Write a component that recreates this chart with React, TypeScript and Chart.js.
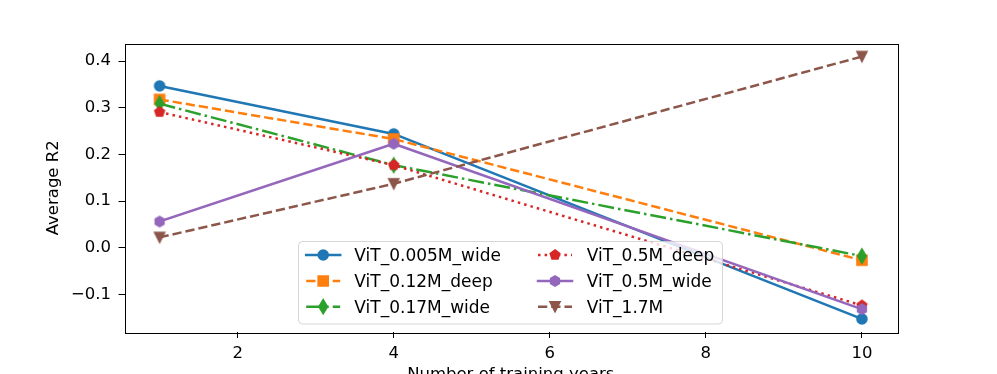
import React, { useEffect, useRef } from 'react';
import { Chart, registerables } from 'chart.js';

Chart.register(...registerables);

// ---- data ----
const years = [1, 4, 10];
const seriesNames = [
  'ViT_0.005M_wide',
  'ViT_0.12M_deep',
  'ViT_0.17M_wide',
  'ViT_0.5M_deep',
  'ViT_0.5M_wide',
  'ViT_1.7M',
];
const vit0005Wide = [0.347, 0.244, -0.153];
const vit012Deep = [0.318, 0.233, -0.027];
const vit017Wide = [0.309, 0.177, -0.018];
const vit05Deep = [0.291, 0.177, -0.124];
const vit05Wide = [0.056, 0.223, -0.132];
const vit17 = [0.022, 0.137, 0.41];
const seriesValues = [vit0005Wide, vit012Deep, vit017Wide, vit05Deep, vit05Wide, vit17];
const xTicks = [2, 4, 6, 8, 10];
const yTicks = [-0.1, 0.0, 0.1, 0.2, 0.3, 0.4];
const xTitle = 'Number of training years';
const yTitle = 'Average R2';

// ---- styles ----
const colors = ['#1f77b4', '#ff7f0e', '#2ca02c', '#d62728', '#9467bd', '#8c564b'];
const dashes: number[][] = [[], [9.25, 4], [16, 4, 2.5, 4], [2.5, 4.1], [], [9.25, 4]];
const markers = ['circle', 'square', 'thinDiamond', 'pentagon', 'hexagon', 'triangleDown'];
const FONT = '"DejaVu Sans", sans-serif';
const MS = 10; // marker size px
const MEW = 1.6; // marker edge width
const LW = 2.5;

function markerPath(ctx: CanvasRenderingContext2D, kind: string, cx: number, cy: number, s: number) {
  ctx.beginPath();
  const h = s / 2;
  if (kind === 'circle') {
    ctx.arc(cx, cy, h, 0, Math.PI * 2);
  } else if (kind === 'square') {
    ctx.rect(cx - h, cy - h, s, s);
  } else if (kind === 'thinDiamond') {
    const d = s * Math.SQRT1_2;
    ctx.moveTo(cx, cy - d);
    ctx.lineTo(cx + 0.6 * d, cy);
    ctx.lineTo(cx, cy + d);
    ctx.lineTo(cx - 0.6 * d, cy);
    ctx.closePath();
  } else if (kind === 'pentagon' || kind === 'hexagon') {
    const n = kind === 'pentagon' ? 5 : 6;
    for (let k = 0; k < n; k++) {
      const a = -Math.PI / 2 + (k * 2 * Math.PI) / n;
      const px = cx + h * Math.cos(a);
      const py = cy + h * Math.sin(a);
      if (k === 0) ctx.moveTo(px, py);
      else ctx.lineTo(px, py);
    }
    ctx.closePath();
  } else if (kind === 'triangleDown') {
    ctx.moveTo(cx, cy + h);
    ctx.lineTo(cx - h, cy - h);
    ctx.lineTo(cx + h, cy - h);
    ctx.closePath();
  }
}

function drawMarker(ctx: CanvasRenderingContext2D, kind: string, cx: number, cy: number, color: string) {
  ctx.save();
  ctx.setLineDash([]);
  markerPath(ctx, kind, cx, cy, MS);
  ctx.fillStyle = color;
  ctx.fill();
  ctx.lineWidth = MEW;
  ctx.lineJoin = 'miter';
  ctx.strokeStyle = color;
  ctx.stroke();
  ctx.restore();
}

function makeMarkerCanvas(kind: string, color: string): HTMLCanvasElement {
  const c = document.createElement('canvas');
  c.width = 26;
  c.height = 26;
  const ctx = c.getContext('2d')!;
  drawMarker(ctx, kind, 13, 13, color);
  return c;
}

const framePlugin = {
  id: 'frameAndLegend',
  afterDatasetsDraw(chart: any) {
    const { ctx, chartArea: a } = chart;
    ctx.save();
    ctx.strokeStyle = '#000';
    ctx.lineWidth = 1;
    ctx.setLineDash([]);
    ctx.strokeRect(Math.round(a.left) + 0.5, Math.round(a.top) + 0.5, Math.round(a.right - a.left), Math.round(a.bottom - a.top));

    // legend
    const bx = 298.5, by = 241.5, bw = 424, bh = 82.5, r = 4;
    ctx.beginPath();
    ctx.moveTo(bx + r, by);
    ctx.lineTo(bx + bw - r, by);
    ctx.quadraticCurveTo(bx + bw, by, bx + bw, by + r);
    ctx.lineTo(bx + bw, by + bh - r);
    ctx.quadraticCurveTo(bx + bw, by + bh, bx + bw - r, by + bh);
    ctx.lineTo(bx + r, by + bh);
    ctx.quadraticCurveTo(bx, by + bh, bx, by + bh - r);
    ctx.lineTo(bx, by + r);
    ctx.quadraticCurveTo(bx, by, bx + r, by);
    ctx.closePath();
    ctx.fillStyle = 'rgba(255,255,255,0.8)';
    ctx.fill();
    ctx.strokeStyle = 'rgba(204,204,204,0.8)';
    ctx.lineWidth = 1;
    ctx.stroke();

    const rowsY = [255, 281, 306.7];
    const colX = [306.2, 538];
    const handleLen = 34;
    const textX = [354.3, 586.7];
    ctx.font = `17px ${FONT}`;
    ctx.textBaseline = 'alphabetic';
    ctx.textAlign = 'left';
    seriesNames.forEach((name, i) => {
      const col = i < 3 ? 0 : 1;
      const row = i % 3;
      const y = rowsY[row];
      const x1 = colX[col];
      ctx.save();
      ctx.strokeStyle = colors[i];
      ctx.lineWidth = LW;
      ctx.setLineDash(dashes[i]);
      ctx.lineCap = dashes[i].length ? 'butt' : 'square';
      ctx.beginPath();
      ctx.moveTo(x1, y);
      ctx.lineTo(x1 + handleLen, y);
      ctx.stroke();
      ctx.restore();
      drawMarker(ctx, markers[i], x1 + handleLen / 2, y, colors[i]);
      ctx.fillStyle = '#000';
      ctx.fillText(name, textX[col], y + 6);
    });
    ctx.restore();
  },
};

const fmt = (v: number) => {
  const s = v.toFixed(1);
  return s.startsWith('-') ? '\u2212' + s.slice(1) : s;
};

export default function App() {
  const ref = useRef<HTMLCanvasElement | null>(null);
  useEffect(() => {
    document.body.style.margin = '0';
    const canvas = ref.current!;
    const datasets = seriesNames.map((name, i) => ({
      label: name,
      data: years.map((x, j) => ({ x, y: seriesValues[i][j] })),
      borderColor: colors[i],
      backgroundColor: colors[i],
      borderWidth: LW,
      borderDash: dashes[i],
      borderCapStyle: dashes[i].length ? 'butt' : 'square',
      borderJoinStyle: 'round',
      pointStyle: makeMarkerCanvas(markers[i], colors[i]),
      pointRadius: 5,
      pointBorderWidth: 0,
      tension: 0,
      fill: false,
      order: seriesNames.length - 1 - i,
      clip: false,
    }));
    const chart = new Chart(canvas, {
      type: 'line',
      data: { datasets } as any,
      options: {
        animation: false,
        responsive: false,
        devicePixelRatio: 1,
        events: [],
        layout: { padding: { top: 43.5, right: 100, left: 0, bottom: 0 } },
        plugins: { legend: { display: false }, tooltip: { enabled: false } },
        scales: {
          x: {
            type: 'linear',
            min: 0.55,
            max: 10.45,
            afterBuildTicks: (s: any) => {
              s.ticks = xTicks.map((v) => ({ value: v }));
            },
            afterFit: (s: any) => {
              s.height = 42;
            },
            border: { display: false },
            grid: { display: true, drawOnChartArea: false, drawTicks: true, tickLength: 6, color: '#000', tickWidth: 1 },
            ticks: {
              color: '#000',
              font: { family: FONT, size: 16.5 },
              padding: 5.4,
              maxRotation: 0,
              autoSkip: false,
              callback: (v: any) => String(v),
            },
            title: {
              display: true,
              text: xTitle,
              color: '#000',
              font: { family: FONT, size: 16.5 },
              padding: { top: 0, bottom: -10.2 },
            },
          },
          y: {
            type: 'linear',
            min: -0.181,
            max: 0.438,
            afterBuildTicks: (s: any) => {
              s.ticks = yTicks.map((v) => ({ value: v }));
            },
            afterFit: (s: any) => {
              s.width = 124.5;
            },
            border: { display: false },
            grid: { display: true, drawOnChartArea: false, drawTicks: true, tickLength: 6, color: '#000', tickWidth: 1 },
            ticks: {
              color: '#000',
              font: { family: FONT, size: 16.5 },
              padding: 7.5,
              autoSkip: false,
              callback: (v: any) => fmt(Number(v)),
            },
            title: {
              display: true,
              text: yTitle,
              color: '#000',
              font: { family: FONT, size: 16.5 },
              padding: { top: 44, bottom: 0 },
            },
          },
        },
      } as any,
      plugins: [framePlugin],
    });
    return () => chart.destroy();
  }, []);
  return (
    <canvas
      ref={ref}
      width={997}
      height={374}
      style={{ position: 'fixed', left: 0, top: 0, width: 997, height: 374 }}
    />
  );
}
